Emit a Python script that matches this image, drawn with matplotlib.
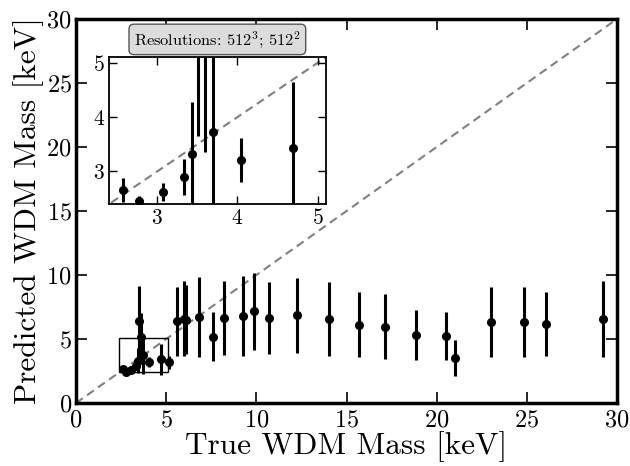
import numpy as np
import matplotlib
matplotlib.use("Agg")
import matplotlib.pyplot as plt
from matplotlib.patches import Rectangle

plt.rcParams['font.family'] = 'serif'
plt.rcParams['font.serif'] = ['cmr10']
plt.rcParams['mathtext.fontset'] = 'cm'
plt.rcParams['axes.formatter.use_mathtext'] = True

# true mass, predicted mass, error (keV)
true_m = [2.58, 2.77, 3.07, 3.34, 3.43, 3.51, 3.59, 3.69, 4.04, 4.69, 5.18,
          5.61, 5.98, 6.10, 6.81, 7.57, 8.19, 9.28, 9.87, 10.72, 12.24, 14.02,
          15.72, 17.13, 18.83, 20.52, 21.02, 23.04, 24.83, 26.04, 29.24]
pred_m = [2.66, 2.45, 2.62, 2.90, 3.32, 6.40, 5.20, 3.73, 3.21, 3.43, 3.18,
          6.40, 6.60, 6.50, 6.72, 5.20, 6.67, 6.80, 7.17, 6.64, 6.85, 6.56,
          6.11, 5.98, 5.33, 5.22, 3.54, 6.35, 6.35, 6.17, 6.59]
pred_err = [0.22, 0.10, 0.17, 0.33, 0.95, 2.75, 1.85, 1.45, 0.40, 1.22, 0.48,
            2.70, 2.95, 2.70, 3.10, 1.90, 2.90, 3.10, 3.00, 2.80, 2.95, 2.88,
            2.53, 2.53, 1.97, 1.88, 1.40, 2.75, 2.75, 2.50, 2.98]

lim = 30
zoom_lim = (2.4, 5.1)

fig = plt.figure(figsize=(6.3, 4.66), dpi=100)
ax = fig.add_axes([0.1206, 0.135, 0.8588, 0.8243])

ax.plot([0, lim], [0, lim], ls=(0, (4, 2.5)), color='gray', lw=1.5, zorder=1)
ax.errorbar(true_m, pred_m, yerr=pred_err, fmt='o', color='black',
            ms=5.5, elinewidth=2.2, capsize=0, zorder=3)
ax.add_patch(Rectangle((zoom_lim[0], zoom_lim[0]), zoom_lim[1] - zoom_lim[0],
                       zoom_lim[1] - zoom_lim[0], fill=False, ec='black', lw=1, zorder=2))

ax.set_xlim(0, lim)
ax.set_ylim(0, lim)
ax.set_xticks(np.arange(0, 31, 5))
ax.set_yticks(np.arange(0, 31, 5))
ax.tick_params(direction='in', top=True, right=True, length=8, width=1.2,
               labelsize=17.5)
ax.tick_params(axis='x', pad=4.5)
ax.tick_params(axis='y', pad=3)
for s in ax.spines.values():
    s.set_linewidth(2.5)
ax.set_xlabel('True WDM Mass [keV]', fontsize=22.5, labelpad=0)
ax.set_ylabel('Predicted WDM Mass [keV]', fontsize=22.5, labelpad=2)

# inset
ins = fig.add_axes([0.173, 0.562, 0.344, 0.315])
ins.plot([0, lim], [0, lim], ls=(0, (4, 2.5)), color='gray', lw=1.5, zorder=1)
ins.errorbar(true_m, pred_m, yerr=pred_err, fmt='o', color='black',
             ms=5.5, elinewidth=2.2, capsize=0, zorder=3)
ins.set_xlim(*zoom_lim)
ins.set_ylim(*zoom_lim)
ins.set_xticks([3, 4, 5])
ins.set_yticks([3, 4, 5])
ins.tick_params(direction='in', top=True, right=True, length=6, width=1,
                labelsize=15.5, pad=3)
for s in ins.spines.values():
    s.set_linewidth(1.3)
ins.text(0.5, 1.122, r'Resolutions: $512^3$; $512^2$', transform=ins.transAxes,
         ha='center', va='center', fontsize=11.8,
         bbox=dict(boxstyle='round,pad=0.3', fc='gainsboro', ec='#555555', lw=1))

fig.savefig('out.png', dpi=100)
